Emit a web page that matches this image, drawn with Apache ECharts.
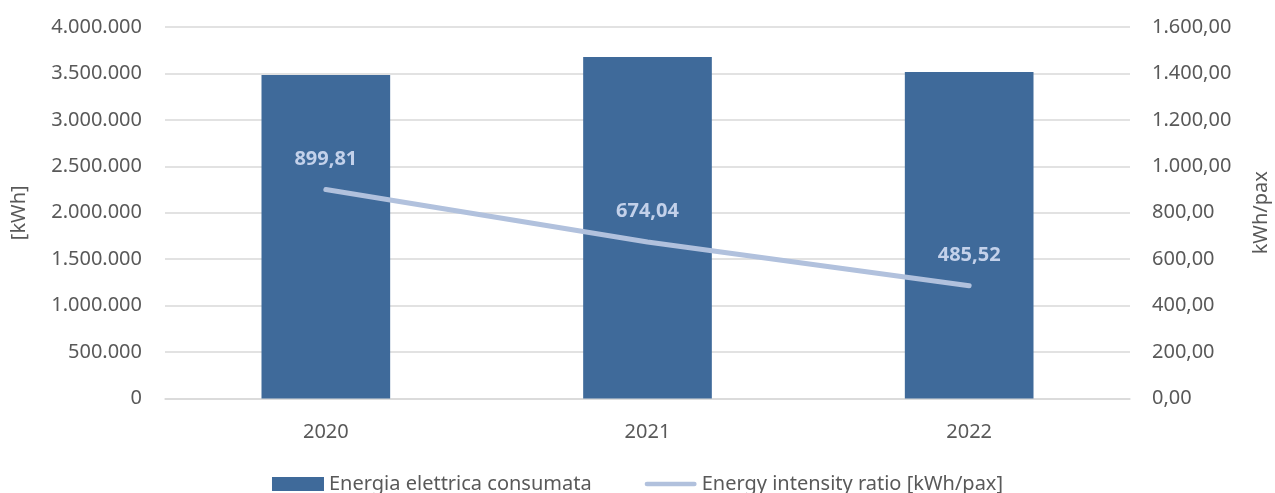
<!DOCTYPE html>
<html>
<head>
<meta charset="utf-8">
<script src="https://cdn.jsdelivr.net/npm/echarts@6/dist/echarts.min.js"></script>
<style>
html,body{margin:0;padding:0;background:#fff;overflow:hidden;}
#chart{width:1275px;height:493px;}
</style>
</head>
<body>
<div id="chart"></div>
<script>
const categories = ['2020', '2021', '2022'];
const energyKWh = [3483000, 3678000, 3516000];
const intensity = [899.81, 674.04, 485.52];
const seriesNames = ['Energia elettrica consumata', 'Energy intensity ratio [kWh/pax]'];

function thousands(intPart) {
  return String(intPart).replace(/\B(?=(\d{3})+(?!\d))/g, '.');
}
function fmtInt(v) { return thousands(Math.round(v)); }
function fmtDec(v) {
  const s = Number(v).toFixed(2).split('.');
  return thousands(s[0]) + ',' + s[1];
}

const FONT = 'Noto Sans';
const TXT = '#595959';
const LINE_COLOR = '#B1C1DD';

const chart = echarts.init(document.getElementById('chart'), null, {renderer: 'canvas'});
chart.setOption({
  animation: false,
  textStyle: {fontFamily: FONT},
  grid: {left: 165, right: 145, top: 27, bottom: 94.5, containLabel: false, outerBoundsMode: 'none'},
  legend: {
    top: 469,
    left: 'center',
    itemGap: 53,
    itemWidth: 52,
    itemHeight: 14,
    textStyle: {fontFamily: FONT, fontSize: 20, color: TXT},
    data: [
      {name: seriesNames[0], icon: 'rect'},
      {name: seriesNames[1],
       icon: 'path://M2.5,0 L53.5,0 A2.5,2.5 0 0 1 53.5,5 L2.5,5 A2.5,2.5 0 0 1 2.5,0 Z',
       itemStyle: {color: LINE_COLOR}}
    ]
  },
  xAxis: {
    type: 'category',
    data: categories,
    axisLine: {show: true, lineStyle: {color: '#D9D9D9', width: 1.5}},
    axisTick: {show: false},
    axisLabel: {color: TXT, fontSize: 20, fontFamily: FONT, margin: 24}
  },
  yAxis: [
    {
      type: 'value',
      min: 0, max: 4000000, interval: 500000,
      name: '[kWh]',
      nameLocation: 'middle',
      nameRotate: 90,
      nameGap: 136,
      nameTextStyle: {color: TXT, fontSize: 20, fontFamily: FONT},
      axisLine: {show: false},
      axisTick: {show: false},
      splitLine: {lineStyle: {color: '#D9D9D9', width: 1.5}},
      axisLabel: {color: TXT, fontSize: 20, fontFamily: FONT, margin: 23, formatter: fmtInt}
    },
    {
      type: 'value',
      min: 0, max: 1600, interval: 200,
      name: 'kWh/pax',
      nameLocation: 'middle',
      nameRotate: 90,
      nameGap: 121,
      nameTextStyle: {color: TXT, fontSize: 20, fontFamily: FONT},
      axisLine: {show: false},
      axisTick: {show: false},
      splitLine: {show: false},
      axisLabel: {color: TXT, fontSize: 20, fontFamily: FONT, margin: 22, formatter: fmtDec}
    }
  ],
  series: [
    {
      name: seriesNames[0],
      type: 'bar',
      yAxisIndex: 0,
      data: energyKWh,
      barWidth: '40%',
      itemStyle: {color: '#3F6A9A'}
    },
    {
      name: seriesNames[1],
      type: 'line',
      yAxisIndex: 1,
      data: intensity,
      symbol: 'circle',
      symbolSize: 1,
      showSymbol: true,
      lineStyle: {color: LINE_COLOR, width: 5, cap: 'round'},
      itemStyle: {color: LINE_COLOR},
      label: {
        show: true,
        position: 'top',
        distance: 20,
        color: '#C3D1EA',
        fontSize: 20,
        fontWeight: 'bold',
        fontFamily: FONT,
        formatter: p => fmtDec(p.value)
      }
    }
  ]
});
</script>
</body>
</html>
